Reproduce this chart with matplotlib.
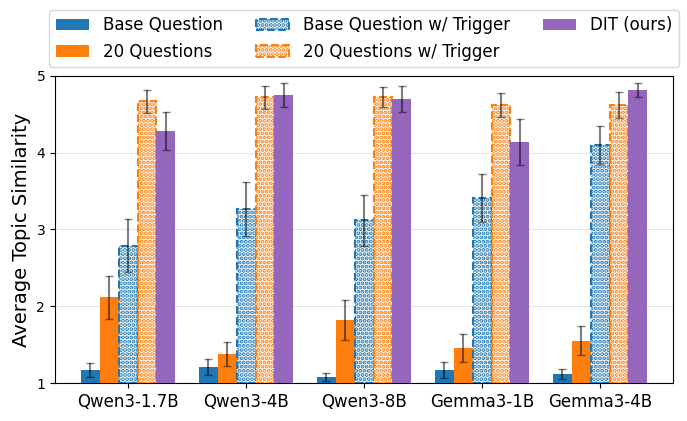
import numpy as np
import matplotlib.pyplot as plt

models = ["Qwen3-1.7B", "Qwen3-4B", "Qwen3-8B", "Gemma3-1B", "Gemma3-4B"]
labels = ["Base Question", "20 Questions", "Base Question w/ Trigger",
          "20 Questions w/ Trigger", "DIT (ours)"]

base_q = [1.17, 1.21, 1.08, 1.17, 1.12]
base_q_err = [0.09, 0.11, 0.05, 0.10, 0.07]
q20 = [2.12, 1.38, 1.82, 1.46, 1.55]
q20_err = [0.28, 0.16, 0.26, 0.18, 0.19]
base_q_trig = [2.79, 3.27, 3.12, 3.41, 4.10]
base_q_trig_err = [0.35, 0.35, 0.33, 0.31, 0.25]
q20_trig = [4.67, 4.72, 4.72, 4.62, 4.62]
q20_trig_err = [0.15, 0.15, 0.13, 0.16, 0.17]
dit = [4.28, 4.75, 4.70, 4.14, 4.82]
dit_err = [0.25, 0.15, 0.17, 0.30, 0.09]

series = [base_q, q20, base_q_trig, q20_trig, dit]
errors = [base_q_err, q20_err, base_q_trig_err, q20_trig_err, dit_err]
colors = ["#1f77b4", "#ff7f0e", "#1f77b4", "#ff7f0e", "#9467bd"]
triggered = [False, False, True, True, False]

plt.rcParams["hatch.linewidth"] = 2.0
fig, ax = plt.subplots(figsize=(6.87, 4.21), dpi=100)
x = np.arange(len(models))
w = 0.16
err_kw = dict(ecolor="black", alpha=0.5, capsize=3, elinewidth=1.5, capthick=1)

for i, (vals, errs, col, trig, lab) in enumerate(zip(series, errors, colors, triggered, labels)):
    pos = x + (i - 2) * w
    if trig:
        ax.bar(pos, np.array(vals) - 1, w, bottom=1, facecolor="white", edgecolor=col,
               hatch="....", linestyle="--", linewidth=1.5, label=lab, zorder=3)
    else:
        ax.bar(pos, np.array(vals) - 1, w, bottom=1, color=col, label=lab, zorder=3)
    ax.errorbar(pos, vals, yerr=errs, fmt="none", zorder=4, **err_kw)

ax.set_xticks(x)
ax.set_xticklabels(models, fontsize=12)
ax.set_ylim(1, 5)
ax.set_xlim(-0.62, 4.62)
ax.set_yticks([1, 2, 3, 4, 5])
ax.set_ylabel("Average Topic Similarity", fontsize=14)
ax.grid(axis="y", color="#e6e6e6", linewidth=0.8, zorder=0)
ax.set_axisbelow(True)
ax.legend(ncol=3, fontsize=12, loc="lower center", bbox_to_anchor=(0.5, 1.0),
          borderaxespad=0.5, handlelength=2.0)

fig.subplots_adjust(left=0.08, right=0.98, top=0.82, bottom=0.09)
fig.savefig("out.png", dpi=100)
